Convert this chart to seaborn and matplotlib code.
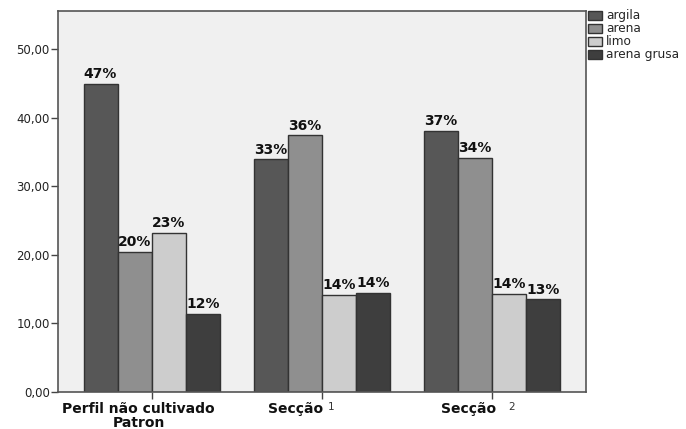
import matplotlib
matplotlib.use("Agg")
import matplotlib.pyplot as plt
import matplotlib.transforms as mtransforms
import seaborn as sns
import pandas as pd

groups = ["Perfil não cultivado\nPatron", "Secção 1", "Secção 2"]
components = ["argila", "arena", "limo", "arena grusa"]
argila = [44.9, 33.9, 38.1]
arena = [20.4, 37.4, 34.1]
limo = [23.2, 14.2, 14.3]
arena_grusa = [11.4, 14.4, 13.5]
pct_labels = {
    "argila": ["47%", "33%", "37%"],
    "arena": ["20%", "36%", "34%"],
    "limo": ["23%", "14%", "14%"],
    "arena grusa": ["12%", "14%", "13%"],
}
yticks = [0, 10, 20, 30, 40, 50]
ytick_labels = ["0,00", "10,00", "20,00", "30,00", "40,00", "50,00"]
colors = ["#575757", "#8f8f8f", "#cdcdcd", "#3e3e3e"]

rows = []
for comp, vals in zip(components, [argila, arena, limo, arena_grusa]):
    for g, v in zip(groups, vals):
        rows.append({"grupo": g, "componente": comp, "valor": v})
df = pd.DataFrame(rows)

sns.set_style("white")
plt.rcParams["font.family"] = ["DejaVu Sans"]

fig = plt.figure(figsize=(6.86, 4.29), dpi=100)
fig.patch.set_facecolor("white")
ax = fig.add_axes([0.0845, 0.0862, 0.7695, 0.8878])
ax.set_facecolor("#f0f0f0")

sns.barplot(data=df, x="grupo", y="valor", hue="componente", order=groups,
            hue_order=components, palette=colors, saturation=1, width=0.8,
            edgecolor="#333333", linewidth=1, ax=ax, errorbar=None)

for cont, comp in zip(ax.containers, components):
    ax.bar_label(cont, labels=pct_labels[comp], padding=2, fontsize=10,
                 fontweight="bold", color="#111111")

ax.set_ylim(0, 55.5)
ax.set_xlim(-0.55, 2.55)
ax.set_yticks(yticks)
ax.set_yticklabels(ytick_labels, fontsize=8.5, color="#222222")
ax.set_xlabel("")
ax.set_ylabel("")

ax.set_xticks([0, 1, 2])
ax.set_xticklabels(["Perfil não cultivado\nPatron", "Secção", "Secção"],
                   fontsize=10, fontweight="bold", color="#111111")
ax.tick_params(axis="both", which="both", direction="out", length=5,
               width=1, color="#444444", left=True, bottom=True)
ax.tick_params(axis="x", pad=2)
ax.tick_params(axis="y", pad=1)
labs = ax.get_xticklabels()
labs[0].set_transform(labs[0].get_transform() +
                      mtransforms.ScaledTranslation(-13 / 100, 0, fig.dpi_scale_trans))
labs[0].set_linespacing(1.05)
for lab, dx in zip(labs[1:], [1, 4]):
    lab.set_ha("right")
    lab.set_transform(lab.get_transform() +
                      mtransforms.ScaledTranslation(dx / 100, 0, fig.dpi_scale_trans))

trans = mtransforms.blended_transform_factory(ax.transData, ax.transAxes)
for xpos, num, dx in zip([1, 2], ["1", "2"], [9, 19]):
    ax.annotate(num, xy=(xpos, 0), xycoords=trans, xytext=(dx, -15),
                textcoords="offset pixels",
                fontsize=7.5, color="#333333", ha="center", va="center")

for s in ax.spines.values():
    s.set_color("#555555")
    s.set_linewidth(1.2)

handles, _ = ax.get_legend_handles_labels()
ax.legend(handles, components, loc="upper left", bbox_to_anchor=(0.857, 0.978),
          bbox_transform=fig.transFigure, frameon=False, fontsize=8.7,
          handlelength=1.2, handleheight=0.8, handletextpad=0.3,
          labelspacing=0.0, borderaxespad=0, borderpad=0)

fig.savefig("out.png", dpi=100, facecolor="white")
